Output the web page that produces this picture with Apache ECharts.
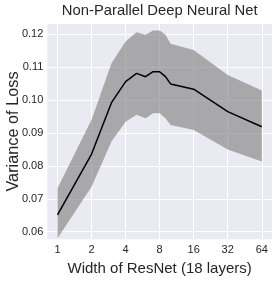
<!DOCTYPE html>
<html>
<head>
<meta charset="utf-8">
<script src="https://cdn.jsdelivr.net/npm/echarts@6/dist/echarts.min.js"></script>
<style>html,body{margin:0;padding:0;background:#fff}#c{width:278px;height:282px}</style>
</head>
<body>
<div id="c"></div>
<script>
const widths = [1, 2, 3, 4, 5, 6, 7, 8, 9, 10, 16, 32, 64];
const meanVar = [0.0651, 0.0836, 0.0992, 0.1056, 0.1081, 0.1071, 0.1086, 0.1086, 0.1071, 0.1049, 0.1033, 0.0965, 0.0919];
const upperVar = [0.0732, 0.0940, 0.1112, 0.1178, 0.1206, 0.1198, 0.1211, 0.1211, 0.1198, 0.1171, 0.1152, 0.1076, 0.1029];
const lowerVar = [0.0580, 0.0737, 0.0874, 0.0934, 0.0955, 0.0945, 0.0960, 0.0960, 0.0945, 0.0924, 0.0909, 0.0850, 0.0813];
const xTickLabels = ['1', '2', '4', '8', '16', '32', '64'];
const yTickLabels = ['0.06', '0.07', '0.08', '0.09', '0.10', '0.11', '0.12'];

const FONT = 'Liberation Sans';
const TXT = '#262626';
const lx = widths.map(w => Math.log2(w));
const meanData = lx.map((x, i) => [x, meanVar[i]]);
const bandData = lx.map((x, i) => [x, lowerVar[i], upperVar[i]]);
const xTickVals = xTickLabels.map(s => Math.log2(Number(s)));
const yTickVals = yTickLabels.map(s => Number(s));

const chart = echarts.init(document.getElementById('c'), null, {renderer: 'canvas'});
chart.setOption({
  animation: false,
  backgroundColor: '#ffffff',
  graphic: [{
    type: 'text', x: 159.7, y: 3,
    style: {text: 'Non-Parallel Deep Neural Net', fontFamily: FONT, fontSize: 14.8, fill: TXT, align: 'center', verticalAlign: 'top'}
  }, {
    type: 'text', x: 14, y: 131.5, rotation: Math.PI / 2,
    style: {text: 'Variance of Loss', fontFamily: FONT, fontSize: 16.3, fill: TXT, align: 'center', verticalAlign: 'middle'}
  }],
  grid: {left: 47.3, right: 6, top: 24, bottom: 42.7, show: true, backgroundColor: '#EAEAF2', borderWidth: 0},
  xAxis: {
    type: 'value', min: -0.3, max: 6.3,
    axisLine: {show: false},
    axisTick: {show: false, customValues: xTickVals},
    splitLine: {show: true, lineStyle: {color: '#ffffff', width: 1}},
    axisLabel: {
      customValues: xTickVals,
      fontFamily: FONT, fontSize: 11, color: TXT, margin: 5,
      formatter: v => {
        const i = xTickVals.findIndex(t => Math.abs(t - v) < 1e-6);
        return i >= 0 ? xTickLabels[i] : '';
      }
    },
    name: 'Width of ResNet (18 layers)', nameLocation: 'middle', nameGap: 22,
    nameTextStyle: {fontFamily: FONT, fontSize: 15, color: TXT}
  },
  yAxis: {
    type: 'value', min: 0.0577, max: 0.1231,
    axisLine: {show: false},
    axisTick: {show: false, customValues: yTickVals},
    splitLine: {show: true, lineStyle: {color: '#ffffff', width: 1}},
    axisLabel: {
      customValues: yTickVals,
      fontFamily: FONT, fontSize: 11, color: TXT, margin: 4,
      formatter: v => {
        const i = yTickVals.findIndex(t => Math.abs(t - v) < 1e-6);
        return i >= 0 ? yTickLabels[i] : '';
      }
    }
  },
  series: [{
    type: 'custom',
    data: bandData,
    encode: {x: 0, y: [1, 2]},
    z: 1,
    renderItem: (params, api) => {
      if (params.dataIndex !== 0) return null;
      const up = [], lo = [];
      for (let i = 0; i < bandData.length; i++) {
        up.push(api.coord([bandData[i][0], bandData[i][2]]));
        lo.push(api.coord([bandData[i][0], bandData[i][1]]));
      }
      const pts = up.concat(lo.reverse());
      return {type: 'polygon', shape: {points: pts}, style: {fill: 'rgba(128,128,128,0.62)', stroke: null}};
    }
  }, {
    type: 'line',
    data: meanData,
    showSymbol: false, symbol: 'none',
    z: 3,
    lineStyle: {color: '#000000', width: 1.5}
  }]
});
</script>
</body>
</html>
